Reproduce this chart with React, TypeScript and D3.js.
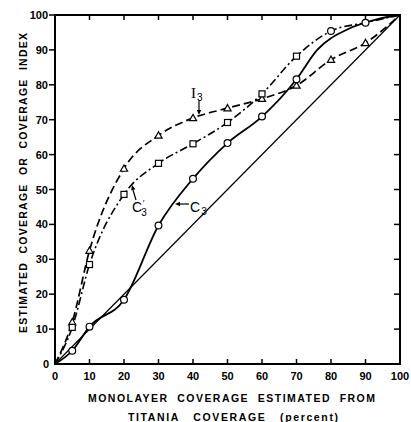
import React from "react";
import * as d3 from "d3";

// Percent coverage estimated from titania (x) for each sampled point
const xPoints = [5, 10, 20, 30, 40, 50, 60, 70, 80, 90];

// I3: coverage index (triangles, dashed)
const i3Values = [12, 32.5, 56, 65.5, 70.5, 73.3, 76, 79.8, 87.2, 92];
// C'3: estimated coverage (squares to 70, circles beyond; dash-dot)
const c3pValues = [10.5, 28.5, 48.6, 57.5, 63.1, 69.2, 77.4, 88.2, 95.4, 97.8];
const c3pMarkers = ["square", "square", "square", "square", "square", "square", "square", "square", "circle", "circle"];
// C3: estimated coverage (circles, solid)
const c3X = [5, 10, 20, 30, 40, 50, 60, 70];
const c3Values = [3.8, 10.7, 18.4, 39.7, 53.1, 63.3, 70.9, 81.6];
// Unmarked stretch of the C3 curve from 70 % up to full coverage
const c3TailX = [76, 85, 93];
const c3TailValues = [90, 96, 98.7];

const xTicks = [0, 10, 20, 30, 40, 50, 60, 70, 80, 90, 100];
const yTicks = [0, 10, 20, 30, 40, 50, 60, 70, 80, 90, 100];

const W = 411;
const H = 422;
const FONT = "'Liberation Sans', Arial, sans-serif";

export default function App() {
  const x = d3.scaleLinear().domain([0, 100]).range([55, 400]);
  const y = d3.scaleLinear().domain([0, 100]).range([364, 15]);

  const line = d3
    .line<[number, number]>()
    .x((d) => x(d[0]))
    .y((d) => y(d[1]))
    .curve(d3.curveMonotoneX);

  const origin: [number, number] = [0, 0];
  const full: [number, number] = [100, 100];

  const i3Path = line([origin, ...xPoints.map((v, i) => [v, i3Values[i]] as [number, number]), full]) || "";
  const c3pPath = line([origin, ...xPoints.map((v, i) => [v, c3pValues[i]] as [number, number]), full]) || "";
  const c3Path =
    line([
      origin,
      ...c3X.map((v, i) => [v, c3Values[i]] as [number, number]),
      ...c3TailX.map((v, i) => [v, c3TailValues[i]] as [number, number]),
      full,
    ]) || "";

  const [x0, x1] = x.range();
  const [y0, y1] = y.range();

  const tri = (cx: number, cy: number, s = 3.6) =>
    `M${cx},${cy - s}L${cx + s},${cy + s * 0.75}L${cx - s},${cy + s * 0.75}Z`;

  const arrow = (tx: number, ty: number, angle: number) => {
    // small filled arrowhead with its tip at (tx, ty), pointing along angle (deg)
    const a = (angle * Math.PI) / 180;
    const len = 5;
    const half = 2.2;
    const bx = tx - Math.cos(a) * len;
    const by = ty - Math.sin(a) * len;
    const px = -Math.sin(a) * half;
    const py = Math.cos(a) * half;
    return `M${tx},${ty}L${bx + px},${by + py}L${bx - px},${by - py}Z`;
  };

  const pre = { whiteSpace: "pre" as const };

  return (
    <svg
      width={W}
      height={H}
      style={{ position: "absolute", left: 0, top: 0, background: "#fff" }}
    >
      {/* reference diagonal */}
      <line x1={x(0)} y1={y(0)} x2={x(100)} y2={y(100)} stroke="#000" strokeWidth={1.2} />

      {/* curves */}
      <path d={i3Path} fill="none" stroke="#000" strokeWidth={1.7} strokeDasharray="8,4" />
      <path d={c3pPath} fill="none" stroke="#000" strokeWidth={1.6} strokeDasharray="8,3,2,3" />
      <path d={c3Path} fill="none" stroke="#000" strokeWidth={1.8} />

      {/* markers */}
      {xPoints.map((v, i) => (
        <path key={`t${i}`} d={tri(x(v), y(i3Values[i]))} fill="#fff" stroke="#000" strokeWidth={1.2} />
      ))}
      {xPoints.map((v, i) =>
        c3pMarkers[i] === "square" ? (
          <rect
            key={`s${i}`}
            x={x(v) - 3}
            y={y(c3pValues[i]) - 3}
            width={6}
            height={6}
            fill="#fff"
            stroke="#000"
            strokeWidth={1.2}
          />
        ) : (
          <circle key={`s${i}`} cx={x(v)} cy={y(c3pValues[i])} r={3.4} fill="#fff" stroke="#000" strokeWidth={1.2} />
        )
      )}
      {c3X.map((v, i) => (
        <circle key={`c${i}`} cx={x(v)} cy={y(c3Values[i])} r={3.4} fill="#fff" stroke="#000" strokeWidth={1.2} />
      ))}

      {/* frame */}
      <rect x={x0} y={y1} width={x1 - x0} height={y0 - y1} fill="none" stroke="#000" strokeWidth={2} />

      {/* ticks */}
      {xTicks.slice(1, -1).map((t) => (
        <g key={`xt${t}`}>
          <line x1={x(t)} x2={x(t)} y1={y0} y2={y0 - 5} stroke="#000" strokeWidth={1.5} />
          <line x1={x(t)} x2={x(t)} y1={y1} y2={y1 + 5} stroke="#000" strokeWidth={1.5} />
        </g>
      ))}
      {yTicks.slice(1, -1).map((t) => (
        <g key={`yt${t}`}>
          <line x1={x0 - 6} x2={x0} y1={y(t)} y2={y(t)} stroke="#000" strokeWidth={1.5} />
          <line x1={x1} x2={x1 - 6} y1={y(t)} y2={y(t)} stroke="#000" strokeWidth={1.5} />
        </g>
      ))}
      <line x1={x0 - 6} x2={x0} y1={y(100)} y2={y(100)} stroke="#000" strokeWidth={1.5} />

      {/* tick labels */}
      {xTicks.map((t) => (
        <text
          key={`xl${t}`}
          x={x(t)}
          y={380}
          textAnchor="middle"
          fontFamily={FONT}
          fontWeight="bold"
          fontSize={11}
        >
          {t}
        </text>
      ))}
      {yTicks.map((t) => (
        <text
          key={`yl${t}`}
          x={t === 0 ? 49 : 48}
          y={y(t) + 4}
          textAnchor="end"
          fontFamily={FONT}
          fontWeight="bold"
          fontSize={11}
        >
          {t}
        </text>
      ))}

      {/* axis titles */}
      <text
        x={231.5}
        y={402}
        textAnchor="middle"
        fontFamily={FONT}
        fontWeight="bold"
        fontSize={10.5}
        textLength={287}
        lengthAdjust="spacing"
        style={pre}
      >
        {"MONOLAYER  COVERAGE  ESTIMATED  FROM"}
      </text>
      <text
        x={233}
        y={420.5}
        textAnchor="middle"
        fontFamily={FONT}
        fontWeight="bold"
        fontSize={10.5}
        textLength={210}
        lengthAdjust="spacing"
        style={pre}
      >
        {"TITANIA   COVERAGE   (percent)"}
      </text>
      <text
        transform="translate(27,183) rotate(-90)"
        textAnchor="middle"
        fontFamily={FONT}
        fontWeight="bold"
        fontSize={10.5}
        textLength={300}
        lengthAdjust="spacing"
        style={pre}
      >
        {"ESTIMATED  COVERAGE  OR  COVERAGE  INDEX"}
      </text>

      {/* curve labels */}
      <text x={191} y={98} fontFamily="'Liberation Serif', serif" fontSize={15}>
        I
        <tspan fontSize={10} dx={1} dy={3} fontFamily={FONT}>3</tspan>
      </text>
      <line x1={199} y1={101} x2={199} y2={110} stroke="#000" strokeWidth={1.2} />
      <path d={arrow(199, 115, 90)} fill="#000" />

      <text x={132} y={212} fontFamily={FONT} fontSize={14}>
        C
        <tspan fontSize={9} dx={0.5} dy={-6}>′</tspan>
        <tspan fontSize={10} dx={-3} dy={10}>3</tspan>
      </text>
      <line x1={136} y1={200} x2={133} y2={190} stroke="#000" strokeWidth={1.2} />
      <path d={arrow(132, 185, -105)} fill="#000" />

      <text x={190} y={212} fontFamily={FONT} fontSize={14}>
        C
        <tspan fontSize={10} dx={1} dy={3}>3</tspan>
      </text>
      <line x1={189} y1={204} x2={180} y2={204} stroke="#000" strokeWidth={1.2} />
      <path d={arrow(175, 204, 180)} fill="#000" />
    </svg>
  );
}
